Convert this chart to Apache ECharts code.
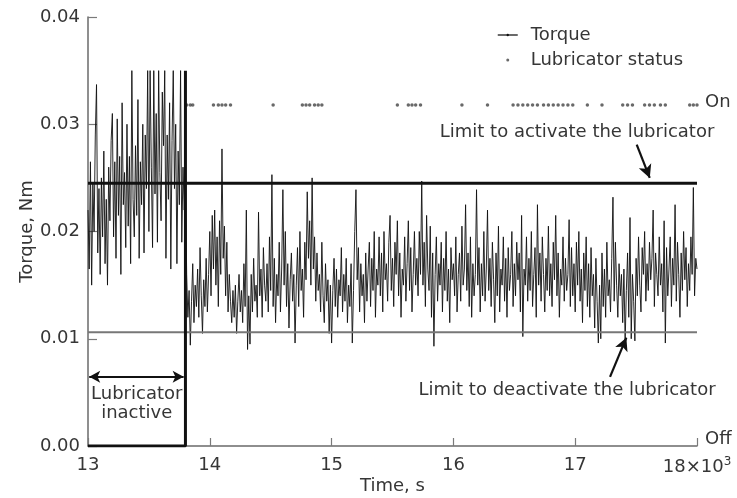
<!DOCTYPE html>
<html>
<head>
<meta charset="utf-8">
<script src="https://cdn.jsdelivr.net/npm/echarts@6/dist/echarts.min.js"></script>
<style>
html,body{margin:0;padding:0;background:#fff;}
#chart{width:737px;height:498px;}
</style>
</head>
<body>
<div id="chart"></div>
<script>
// ---------- data ----------
const xTickLabels = ['13', '14', '15', '16', '17', '18×10'];
const yTickLabels = ['0.00', '0.01', '0.02', '0.03', '0.04'];

// torque signal, sampled every 10 s from 13000 s
const torqueStartTime = 13000;
const torqueStep = 10;
const torqueValues = [
0.0220,0.0165,0.0265,0.0150,0.0245,0.0200,0.0290,0.0337,0.0180,0.0240,
0.0160,0.0250,0.0195,0.0275,0.0170,0.0230,0.0150,0.0260,0.0210,0.0285,
0.0310,0.0195,0.0265,0.0175,0.0305,0.0215,0.0270,0.0160,0.0320,0.0225,
0.0255,0.0185,0.0300,0.0205,0.0270,0.0170,0.0350,0.0230,0.0195,0.0280,
0.0215,0.0323,0.0175,0.0265,0.0225,0.0300,0.0180,0.0290,0.0240,0.0350,
0.0200,0.0350,0.0260,0.0185,0.0350,0.0235,0.0310,0.0190,0.0350,0.0255,
0.0210,0.0330,0.0280,0.0350,0.0175,0.0290,0.0230,0.0320,0.0165,0.0285,
0.0350,0.0240,0.0300,0.0170,0.0275,0.0225,0.0350,0.0190,0.0260,0.0220,
0.0253,0.0160,0.0120,0.0145,0.0094,0.0135,0.0170,0.0115,0.0150,0.0130,
0.0165,0.0120,0.0185,0.0140,0.0105,0.0155,0.0130,0.0175,0.0125,0.0160,
0.0200,0.0140,0.0215,0.0165,0.0220,0.0150,0.0195,0.0130,0.0210,0.0160,
0.0277,0.0175,0.0205,0.0140,0.0190,0.0125,0.0160,0.0135,0.0115,0.0145,
0.0120,0.0150,0.0105,0.0135,0.0160,0.0125,0.0145,0.0115,0.0170,0.0130,
0.0220,0.0090,0.0140,0.0095,0.0160,0.0125,0.0175,0.0135,0.0150,0.0120,
0.0218,0.0140,0.0165,0.0120,0.0185,0.0150,0.0135,0.0170,0.0125,0.0195,
0.0145,0.0253,0.0130,0.0175,0.0115,0.0160,0.0140,0.0190,0.0125,0.0165,
0.0239,0.0150,0.0200,0.0130,0.0170,0.0110,0.0155,0.0180,0.0135,0.0160,
0.0096,0.0150,0.0185,0.0130,0.0200,0.0145,0.0165,0.0120,0.0190,0.0155,
0.0237,0.0175,0.0210,0.0150,0.0250,0.0165,0.0195,0.0135,0.0180,0.0145,
0.0160,0.0125,0.0190,0.0140,0.0115,0.0170,0.0135,0.0155,0.0105,0.0150,
0.0096,0.0145,0.0175,0.0130,0.0165,0.0120,0.0155,0.0140,0.0185,0.0125,
0.0160,0.0135,0.0175,0.0115,0.0150,0.0130,0.0170,0.0096,0.0145,0.0200,
0.0239,0.0155,0.0185,0.0125,0.0170,0.0140,0.0160,0.0115,0.0180,0.0135,
0.0165,0.0190,0.0130,0.0175,0.0145,0.0200,0.0120,0.0165,0.0150,0.0195,
0.0140,0.0180,0.0125,0.0200,0.0155,0.0170,0.0135,0.0190,0.0215,0.0145,
0.0175,0.0130,0.0190,0.0160,0.0210,0.0140,0.0180,0.0120,0.0165,0.0150,
0.0195,0.0135,0.0170,0.0210,0.0145,0.0185,0.0125,0.0160,0.0200,0.0150,
0.0175,0.0140,0.0200,0.0160,0.0247,0.0150,0.0190,0.0130,0.0215,0.0165,
0.0145,0.0205,0.0120,0.0180,0.0093,0.0160,0.0195,0.0135,0.0170,0.0150,
0.0190,0.0125,0.0175,0.0145,0.0200,0.0135,0.0165,0.0115,0.0185,0.0155,
0.0170,0.0140,0.0195,0.0125,0.0160,0.0180,0.0135,0.0205,0.0150,0.0165,
0.0225,0.0145,0.0180,0.0130,0.0195,0.0120,0.0170,0.0140,0.0160,0.0239,
0.0150,0.0185,0.0125,0.0170,0.0140,0.0200,0.0135,0.0165,0.0220,0.0145,
0.0175,0.0130,0.0190,0.0155,0.0115,0.0180,0.0140,0.0205,0.0125,0.0165,
0.0150,0.0195,0.0135,0.0175,0.0120,0.0185,0.0145,0.0160,0.0200,0.0130,
0.0170,0.0140,0.0190,0.0155,0.0180,0.0125,0.0215,0.0102,0.0165,0.0150,
0.0195,0.0135,0.0175,0.0145,0.0200,0.0130,0.0160,0.0185,0.0120,0.0225,
0.0150,0.0180,0.0135,0.0195,0.0160,0.0125,0.0175,0.0145,0.0205,0.0140,
0.0170,0.0130,0.0190,0.0155,0.0215,0.0140,0.0180,0.0120,0.0165,0.0150,
0.0195,0.0135,0.0175,0.0145,0.0160,0.0211,0.0130,0.0185,0.0140,0.0170,
0.0125,0.0190,0.0150,0.0200,0.0135,0.0165,0.0115,0.0180,0.0145,0.0195,
0.0130,0.0170,0.0120,0.0185,0.0140,0.0160,0.0110,0.0175,0.0135,0.0096,
0.0150,0.0100,0.0180,0.0130,0.0165,0.0120,0.0190,0.0140,0.0155,0.0125,
0.0175,0.0232,0.0135,0.0190,0.0150,0.0120,0.0170,0.0140,0.0160,0.0115,
0.0165,0.0096,0.0145,0.0180,0.0120,0.0213,0.0100,0.0160,0.0135,0.0098,
0.0175,0.0140,0.0195,0.0150,0.0125,0.0185,0.0160,0.0200,0.0135,0.0170,
0.0145,0.0190,0.0155,0.0175,0.0220,0.0130,0.0180,0.0160,0.0140,0.0195,
0.0150,0.0170,0.0125,0.0210,0.0096,0.0185,0.0140,0.0165,0.0195,0.0130,
0.0175,0.0150,0.0225,0.0135,0.0190,0.0160,0.0120,0.0180,0.0145,0.0200,
0.0155,0.0185,0.0130,0.0170,0.0145,0.0195,0.0160,0.0241,0.0140,0.0175,
0.0165
];

// times (s) at which the lubricator status is "On"
const statusOnTimes = [
13810,13840,13860,14030,14070,14100,14130,14170,14520,
14760,14790,14820,14860,14890,14920,15540,15630,15660,15690,15730,
16070,16280,16490,16530,16570,16610,16650,16690,16740,16780,16820,
16860,16900,16940,16980,17100,17220,17390,17430,17470,
17570,17610,17650,17700,17740,17940,17970,18000
];
const statusOnLevel = 0.0318;
const statusOffLevel = 0;

const activateLimit = 0.0245;
const deactivateLimit = 0.0106;
const inactiveEndTime = 13800;
const inactiveLineTop = 0.035;
const timeMin = 13000, timeMax = 18000;

// ---------- chart ----------
const FONT = 'DejaVu Sans';
const TXT = '#363636';
const chart = echarts.init(document.getElementById('chart'), null, {renderer: 'canvas'});

const torqueData = torqueValues.map((v, i) => [torqueStartTime + i * torqueStep, v]);
const statusData = statusOnTimes.map(t => [t, statusOnLevel]);

chart.setOption({
  animation: false,
  backgroundColor: '#fff',
  grid: {left: 88, right: 40, top: 17, bottom: 52, containLabel: false, outerBoundsMode: 'none'},
  legend: {
    orient: 'vertical', left: 492, top: 21, itemWidth: 20, itemHeight: 3, itemGap: 7,
    textStyle: {fontFamily: FONT, fontSize: 18, color: TXT, padding: [0, 0, 0, 8]},
    data: [
      {name: 'Torque', lineStyle: {width: 1.5, color: '#222'}},
      {name: 'Lubricator status'}
    ]
  },
  xAxis: {
    type: 'value', min: timeMin, max: timeMax, interval: 1000,
    name: 'Time, s', nameLocation: 'middle', nameGap: 31, nameMoveOverlap: false,
    nameTextStyle: {fontFamily: FONT, fontSize: 18, color: TXT},
    axisLine: {show: true, lineStyle: {color: '#6a6a6a', width: 1.5}},
    axisTick: {show: true, inside: true, length: 8, lineStyle: {color: '#7a7a7a', width: 1.2}},
    splitLine: {show: false},
    axisLabel: {
      margin: 10, fontFamily: FONT, fontSize: 18, color: TXT,
      formatter: function (v) {
        const idx = Math.round((v - timeMin) / 1000);
        const s = xTickLabels[idx];
        if (idx === xTickLabels.length - 1) return '{n|' + s + '}{s|3}';
        return '{n|' + s + '}';
      },
      rich: {
        n: {fontFamily: FONT, fontSize: 18, color: TXT},
        s: {fontFamily: FONT, fontSize: 12, color: TXT, verticalAlign: 'bottom', padding: [0, 0, 10, 0]}
      }
    }
  },
  yAxis: {
    type: 'value', min: 0, max: 0.04, interval: 0.01,
    name: 'Torque, Nm', nameLocation: 'middle', nameGap: 52, nameMoveOverlap: false,
    nameTextStyle: {fontFamily: FONT, fontSize: 18, color: TXT},
    axisLine: {show: true, lineStyle: {color: '#6a6a6a', width: 1.5}},
    axisTick: {show: true, inside: true, length: 9, lineStyle: {color: '#7a7a7a', width: 1.2}},
    splitLine: {show: false},
    axisLabel: {
      margin: 8, fontFamily: FONT, fontSize: 18, color: TXT,
      formatter: function (v) { return yTickLabels[Math.round(v / 0.01)]; }
    }
  },
  series: [
    {
      name: 'Torque', type: 'line', data: torqueData, showSymbol: false, symbol: 'none',
      color: '#111',
      lineStyle: {color: '#111', width: 1, opacity: 0.9}, z: 2, silent: true
    },
    {
      name: 'Lubricator status', type: 'scatter', data: statusData, symbol: 'circle', symbolSize: 3.5,
      itemStyle: {color: '#444'}, z: 4, silent: true
    },
    {
      name: 'activate', type: 'line', data: [[timeMin, activateLimit], [timeMax, activateLimit]],
      showSymbol: false, symbol: 'none', lineStyle: {color: '#111', width: 3}, z: 5, silent: true,
      markLine: {
        silent: true, symbol: ['none', 'arrow'], symbolSize: [10, 13],
        lineStyle: {color: '#111', width: 2.2, type: 'solid'}, label: {show: false},
        data: [[{coord: [17505, 0.0281]}, {coord: [17612, 0.0250]}]]
      }
    },
    {
      name: 'deactivate', type: 'line', data: [[timeMin, deactivateLimit], [timeMax, deactivateLimit]],
      showSymbol: false, symbol: 'none', lineStyle: {color: '#777', width: 2}, z: 5, silent: true,
      markLine: {
        silent: true, symbol: ['none', 'arrow'], symbolSize: [10, 13],
        lineStyle: {color: '#111', width: 2.2, type: 'solid'}, label: {show: false},
        data: [[{coord: [17286, 0.00645]}, {coord: [17420, 0.0101]}]]
      }
    },
    {
      name: 'inactive', type: 'line',
      data: [[timeMin, statusOffLevel], [inactiveEndTime, statusOffLevel], [inactiveEndTime, inactiveLineTop]],
      showSymbol: false, symbol: 'none', lineStyle: {color: '#111', width: 3}, z: 6, silent: true,
      markLine: {
        silent: true, symbol: ['arrow', 'arrow'], symbolSize: [9, 11],
        lineStyle: {color: '#111', width: 2.2, type: 'solid'}, label: {show: false},
        data: [[{coord: [timeMin + 10, 0.00645]}, {coord: [inactiveEndTime - 15, 0.00645]}]]
      }
    }
  ]
});

// annotations anchored to data coordinates
function px(t, v) { return chart.convertToPixel({gridIndex: 0}, [t, v]); }
function txt(t, v, s, align, dx, dy) {
  const p = px(t, v);
  return {
    type: 'text', x: p[0] + (dx || 0), y: p[1] + (dy || 0), silent: true,
    style: {text: s, fontFamily: FONT, fontSize: 18, fill: TXT, align: align || 'center', verticalAlign: 'middle'}
  };
}
chart.setOption({
  graphic: [
    txt(17015, 0.02925, 'Limit to activate the lubricator', 'center'),
    txt(16933, 0.00523, 'Limit to deactivate the lubricator', 'center'),
    txt(13400, 0.00486, 'Lubricator', 'center'),
    txt(13400, 0.00308, 'inactive', 'center'),
    txt(timeMax, statusOnLevel, 'On', 'left', 8, -3),
    txt(timeMax, statusOffLevel, 'Off', 'left', 8, -7)
  ]
});
</script>
</body>
</html>
